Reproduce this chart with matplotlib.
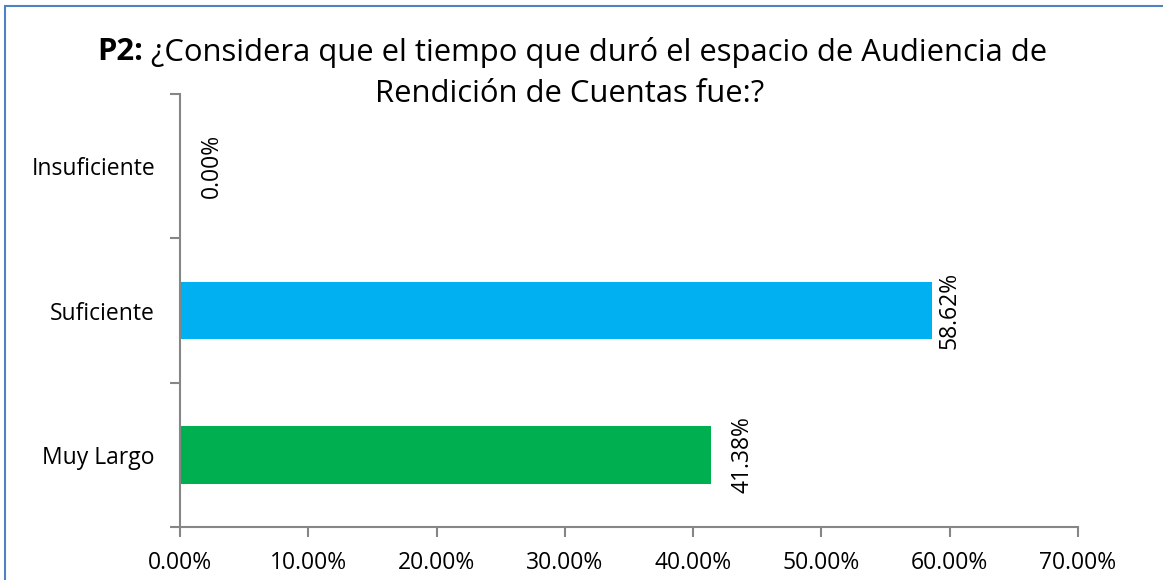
import matplotlib
matplotlib.use('Agg')
import matplotlib.pyplot as plt
from matplotlib.patches import Rectangle
from matplotlib.ticker import FuncFormatter

plt.rcParams['font.family'] = ['Open Sans', 'DejaVu Sans']

categories = ['Muy Largo', 'Suficiente', 'Insuficiente']
values = [41.38, 58.62, 0.00]
colors = ['#00B050', '#00B0F0', '#00B0F0']
label_gap = [20, 5, 20]   # px between bar end and its label
xticks = [0, 10, 20, 30, 40, 50, 60, 70]

AXIS = '#868686'
FS = 16.5
TFS = 22.3

fig = plt.figure(figsize=(11.63, 5.80), dpi=100)
ax = fig.add_axes([180 / 1163, 53 / 580, 898 / 1163, 433 / 580])

y = list(range(len(categories)))
ax.barh(y, values, height=0.4, color=colors)

for yi, v, g in zip(y, values, label_gap):
    ax.annotate('{:.2f}%'.format(v), xy=(v, yi), xytext=(g * 0.72, 0),
                textcoords='offset points', rotation=90,
                ha='left', va='center', fontsize=FS, color='black')

ax.set_xlim(0, 70)
ax.set_ylim(-0.5, 2.5)
ax.set_xticks(xticks)
ax.xaxis.set_major_formatter(FuncFormatter(lambda v, p: '{:.2f}%'.format(v)))
ax.set_yticks([-0.5, 0.5, 1.5, 2.5])
ax.set_yticklabels([])
ax.set_yticks(y, minor=True)
ax.set_yticklabels(categories, minor=True)
ax.tick_params(axis='y', which='minor', length=0, pad=18, labelsize=FS)
ax.tick_params(axis='y', which='major', length=7, width=1.5, color=AXIS)
ax.tick_params(axis='x', length=7, width=1.5, color=AXIS, pad=10, labelsize=FS)

for s in ['top', 'right']:
    ax.spines[s].set_visible(False)
for s in ['left', 'bottom']:
    ax.spines[s].set_color(AXIS)
    ax.spines[s].set_linewidth(1.5)

# title: bold "P2:" followed by regular text
t1 = fig.text(97 / 1163, 1 - 52 / 580, 'P2:', fontsize=TFS, fontweight='bold',
              va='center', ha='left')
ax.annotate(' ¿Considera que el tiempo que duró el espacio de Audiencia de',
            xy=(1, 0.5), xycoords=t1, va='center', ha='left', fontsize=TFS)
fig.text(570 / 1163, 1 - 94 / 580, 'Rendición de Cuentas fue:?',
         fontsize=TFS, ha='center', va='center')

# chart frame (left/top edges visible)
fig.add_artist(Rectangle((5 / 1163, -0.5), 2, 0.5 + 1 - 6 / 580,
                         transform=fig.transFigure, fill=False,
                         edgecolor='#4F81C4', linewidth=1.5))

fig.savefig('out.png', dpi=100)
